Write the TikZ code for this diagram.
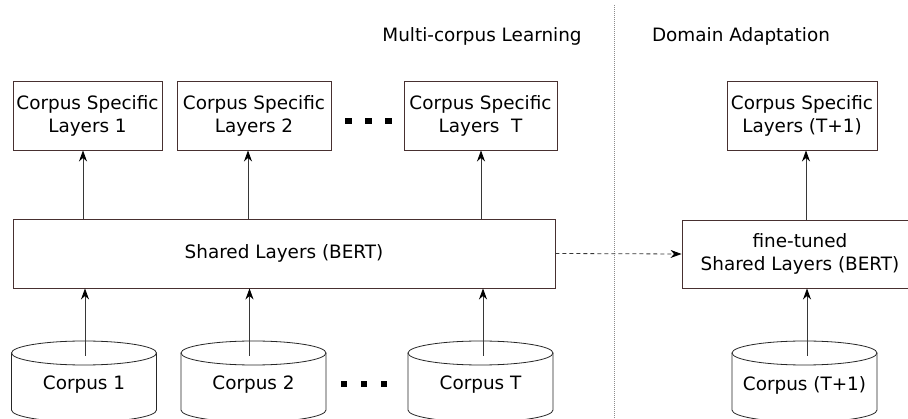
\documentclass[tikz,border=0pt]{standalone}
\usepackage{fontspec}
\setmainfont{DejaVu Sans}
\usetikzlibrary{arrows.meta,calc}
\definecolor{boxc}{RGB}{72,48,48}
\definecolor{linec}{RGB}{55,55,55}
\definecolor{divc}{RGB}{140,140,140}
\newcommand{\corpusdb}[3]{%
  \draw[cylline] (#2-72.5,353) -- (#2-72.5,410) arc[start angle=180,end angle=360,x radius=72.5pt,y radius=12pt] -- (#2+72.5,353);
  \draw[cylline] (#2,353) ellipse[x radius=72.5pt,y radius=12pt];
  \node[txt] (#1) at (#2,385) {#3};
}
\begin{document}
\begin{tikzpicture}[x=1pt,y=-1pt,
  txt/.style={font=\fontsize{18.4}{23}\selectfont, inner sep=0pt, align=center},
  layerbox/.style={draw=boxc, line width=0.9pt, inner sep=0pt, align=center,
    font=\fontsize{18.4}{23}\selectfont, minimum height=69pt},
  cylline/.style={draw=black!85, line width=0.8pt, fill=white},
  conn/.style={draw=linec, line width=0.8pt, -{Stealth[length=11pt,width=8pt,inset=3.5pt,black]}},
  dashconn/.style={conn, dash pattern=on 4pt off 3pt},
  divider/.style={draw=divc, line width=0.9pt, dash pattern=on 1pt off 1pt},
  dotsq/.style={fill=black}
]
\useasboundingbox (0,0) rectangle (908,419);
\clip (0,0) rectangle (908,419);

% divider
\coordinate (dtop) at (614,5);
\coordinate (dbot) at (614,419);
\draw[divider] (dtop) -- (dbot);

% headers
\node[txt] (h1) at (482,36) {Multi-corpus Learning};
\node[txt] (h2) at (741,36) {Domain Adaptation};

% top boxes
\node[layerbox, minimum width=149pt] (b1) at (87.5,115.5) {Corpus Specific\\Layers 1};
\node[layerbox, minimum width=154pt] (b2) at (254,115.5) {Corpus Specific\\Layers 2};
\node[layerbox, minimum width=153pt] (bt) at (480.5,115.5) {Corpus Specific\\Layers~~T};
\node[layerbox, minimum width=150pt] (bt1) at (802,115.5) {Corpus Specific\\Layers (T+1)};

% dots top
\fill[dotsq] (345,118.5) rectangle (352,124.5);
\fill[dotsq] (365,118.5) rectangle (372,124.5);
\fill[dotsq] (385,118.5) rectangle (392,124.5);

% shared layers
\node[layerbox, minimum width=542pt] (shared) at (284,253.5) {Shared Layers (BERT)};
\node[layerbox, minimum width=236pt, minimum height=68pt] (fine) at (800,254) {fine-tuned\\Shared Layers (BERT)};

% corpora
\corpusdb{c1}{84}{Corpus 1}
\corpusdb{c2}{253.5}{Corpus 2}
\corpusdb{ct}{480.5}{Corpus T}
\corpusdb{ct1}{804.5}{Corpus (T+1)}

% dots bottom
\fill[dotsq] (341,381) rectangle (347,387);
\fill[dotsq] (361,381) rectangle (367,387);
\fill[dotsq] (381,381) rectangle (387,387);

% connector x positions
\coordinate (u1) at (83,0);
\coordinate (u2) at (248,0);
\coordinate (ut) at (481,0);
\coordinate (ut1) at (806,0);
\coordinate (l1) at (85,356);
\coordinate (l2) at (249.5,356);
\coordinate (lt) at (483,356);
\coordinate (lt1) at (807,356);

% shared -> top boxes
\draw[conn] (u1 |- shared.north) -- (u1 |- b1.south);
\draw[conn] (u2 |- shared.north) -- (u2 |- b2.south);
\draw[conn] (ut |- shared.north) -- (ut |- bt.south);
\draw[conn] (ut1 |- fine.north) -- (ut1 |- bt1.south);

% corpora -> shared
\draw[conn] (l1) -- (l1 |- shared.south);
\draw[conn] (l2) -- (l2 |- shared.south);
\draw[conn] (lt) -- (lt |- shared.south);
\draw[conn] (lt1) -- (lt1 |- fine.south);

% transfer
\draw[dashconn] (shared.east) -- (fine.west);
\end{tikzpicture}
\end{document}
